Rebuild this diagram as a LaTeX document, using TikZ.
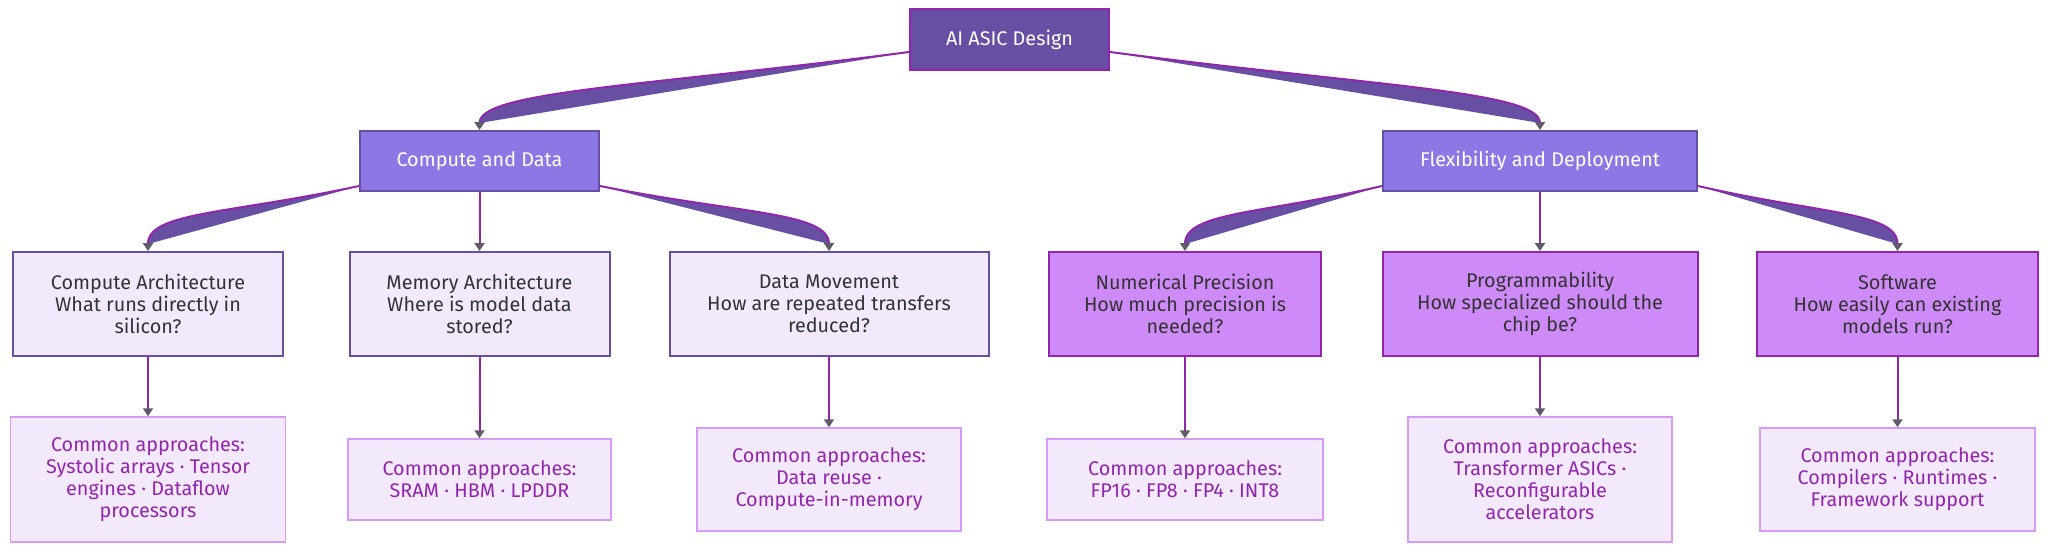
\documentclass[tikz,border=0pt]{standalone}
\usepackage{fontspec}
\setmainfont{Fira Sans}
\usetikzlibrary{arrows.meta}

\definecolor{rootfill}{RGB}{103,80,164}
\definecolor{groupfill}{RGB}{140,119,229}
\definecolor{lavender}{RGB}{243,233,253}
\definecolor{orchid}{RGB}{206,138,247}
\definecolor{lightorchid}{RGB}{214,155,246}
\definecolor{linkpurple}{RGB}{145,38,172}
\definecolor{arrowgrey}{RGB}{95,92,105}
\definecolor{darktext}{RGB}{51,51,51}

\begin{document}
\begin{tikzpicture}[
			x=1pt, y=-1pt,
			font=\fontsize{19.8}{22}\selectfont,
			box/.style={draw, rectangle, align=center, inner sep=0pt},
			rootbox/.style={box, fill=rootfill, draw=linkpurple, line width=2pt, text=white},
			groupbox/.style={box, fill=groupfill, draw=rootfill, line width=2pt, text=white, minimum height=60pt},
			askbox/.style={box, fill=lavender, draw=rootfill, line width=2pt, text=darktext, minimum height=104pt},
			choicebox/.style={box, fill=orchid, draw=linkpurple, line width=2pt, text=darktext, minimum height=104pt},
			approachbox/.style={box, fill=lavender, draw=lightorchid, line width=1.5pt, text=linkpurple},
			curve/.style={draw=linkpurple, line width=2pt},
			link/.style={curve, -{Triangle[width=10pt,length=8pt,color=arrowgrey]}},
			bulge/.style={fill=rootfill}
		]
		\useasboundingbox (0,0) rectangle (2048,552);

		% top and the two groups
		\node[rootbox, minimum width=199pt, minimum height=61pt] (asic) at (1009.5,39.5) {AI ASIC Design};
		\node[groupbox, minimum width=239pt] (compute) at (479.5,161) {Compute and Data};
		\node[groupbox, minimum width=314pt] (flex) at (1540,161) {Flexibility and Deployment};

		% questions
		\node[askbox, minimum width=270pt] (arch) at (148,304) {Compute Architecture\\What runs directly in\\silicon?};
		\node[askbox, minimum width=260pt] (memory) at (479.5,304) {Memory Architecture\\Where is model data\\stored?};
		\node[askbox, minimum width=319pt] (moves) at (829,304) {Data Movement\\How are repeated transfers\\reduced?};
		\node[choicebox, minimum width=272pt] (precision) at (1185,304) {Numerical Precision\\How much precision is\\needed?};
		\node[choicebox, minimum width=315pt] (program) at (1540,304) {Programmability\\How specialized should the\\chip be?};
		\node[choicebox, minimum width=281pt] (software) at (1897.5,304) {Software\\How easily can existing\\models run?};

		% approaches
		\node[approachbox, minimum width=275pt, minimum height=125pt] (archways) at (148,479.5) {Common approaches:\\Systolic arrays · Tensor\\engines · Dataflow\\processors};
		\node[approachbox, minimum width=263pt, minimum height=81pt] (memways) at (479.5,479.5) {Common approaches:\\SRAM · HBM · LPDDR};
		\node[approachbox, minimum width=264pt, minimum height=103pt] (moveways) at (829,479.5) {Common approaches:\\Data reuse ·\\Compute-in-memory};
		\node[approachbox, minimum width=276pt, minimum height=81pt] (precways) at (1185,479.5) {Common approaches:\\FP16 · FP8 · FP4 · INT8};
		\node[approachbox, minimum width=264pt, minimum height=125pt] (progways) at (1540,479.5) {Common approaches:\\Transformer ASICs ·\\Reconfigurable\\accelerators};
		\node[approachbox, minimum width=275pt, minimum height=103pt] (softways) at (1897.5,479.5) {Common approaches:\\Compilers · Runtimes ·\\Framework support};

		% curved links, filled under the curve
		\foreach \from/\corner/\rise/\cx/\cy/\to in {
				asic/south west/19/-260/34/compute,
				asic/south east/19/260/34/flex,
				compute/south west/6/-130/28/arch,
				compute/south east/6/140/28/moves,
				flex/south west/6/-120/28/precision,
				flex/south east/6/122/28/software}
			{
				\fill[bulge] ([yshift=\rise pt]\from.\corner) .. controls +(\cx,\cy) and +(0,-32) .. ([yshift=7pt]\to.north) -- cycle;
				\draw[curve] ([yshift=\rise pt]\from.\corner) .. controls +(\cx,\cy) and +(0,-32) .. ([yshift=7pt]\to.north);
				\draw[link] ([yshift=8pt]\to.north) -- (\to.north);
			}

		% straight links
		\draw[link] (compute.south) -- (memory.north);
		\draw[link] (flex.south) -- (program.north);
		\foreach \from/\to in {arch/archways, memory/memways, moves/moveways, precision/precways, program/progways, software/softways}
			\draw[link] (\from.south) -- (\to.north);
	\end{tikzpicture}
\end{document}
